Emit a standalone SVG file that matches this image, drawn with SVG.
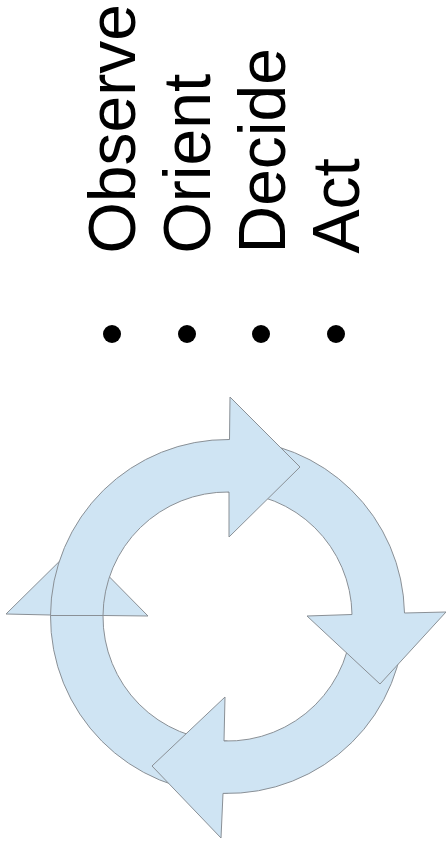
<svg xmlns="http://www.w3.org/2000/svg" width="446" height="852" viewBox="0 0 446 852">
<style>
.lbl{font-family:"Liberation Sans",Arial,sans-serif;font-size:66px;fill:#000}
.arr{fill:#cfe4f3;stroke:#8a9096;stroke-width:1;stroke-linejoin:miter}
.dot{fill:#000}
</style>
<rect width="446" height="852" fill="#fff"/>
<g id="list">
<g id="item-observe"><text class="lbl" transform="translate(135,253.5) rotate(-90)">Observe</text><circle class="dot" cx="112" cy="334" r="9"/></g>
<g id="item-orient"><text class="lbl" transform="translate(210,253.5) rotate(-90)">Orient</text><circle class="dot" cx="187" cy="334" r="9"/></g>
<g id="item-decide"><text class="lbl" transform="translate(285,253.5) rotate(-90)">Decide</text><circle class="dot" cx="261" cy="334" r="9"/></g>
<g id="item-act"><text class="lbl" transform="translate(359,253.5) rotate(-90)">Act</text><circle class="dot" cx="336" cy="334" r="9"/></g>
</g>
<g id="cycle">
<g id="arrow-left"><path class="arr" d="M227.5,793.5 A177,177 0 0 1 50.5,615 L6,614 L77,544 L148,616 L103,615.5 A124.5,124.5 0 0 0 227.5,741 Z"/></g>
<g id="arrow-bottom"><path class="arr" d="M404.5,614 A177,177 0 0 1 223,793.4 L221,838 L152,766 L225,697 L224,741 A124.5,124.5 0 0 0 352,614 Z"/></g>
<g id="arrow-right"><path class="arr" d="M227.5,439.5 A177,177 0 0 1 404.5,613 L446,612 L380,684 L307,616 L352,614.5 A124.5,124.5 0 0 0 227.5,492 Z"/></g>
<g id="arrow-top"><path class="arr" d="M50.5,615.5 A177,177 0 0 1 229.5,439.5 L230,397 L300,467 L229,537 L229,492 A124.5,124.5 0 0 0 103,615.5 Z"/></g>
</g>
</svg>
